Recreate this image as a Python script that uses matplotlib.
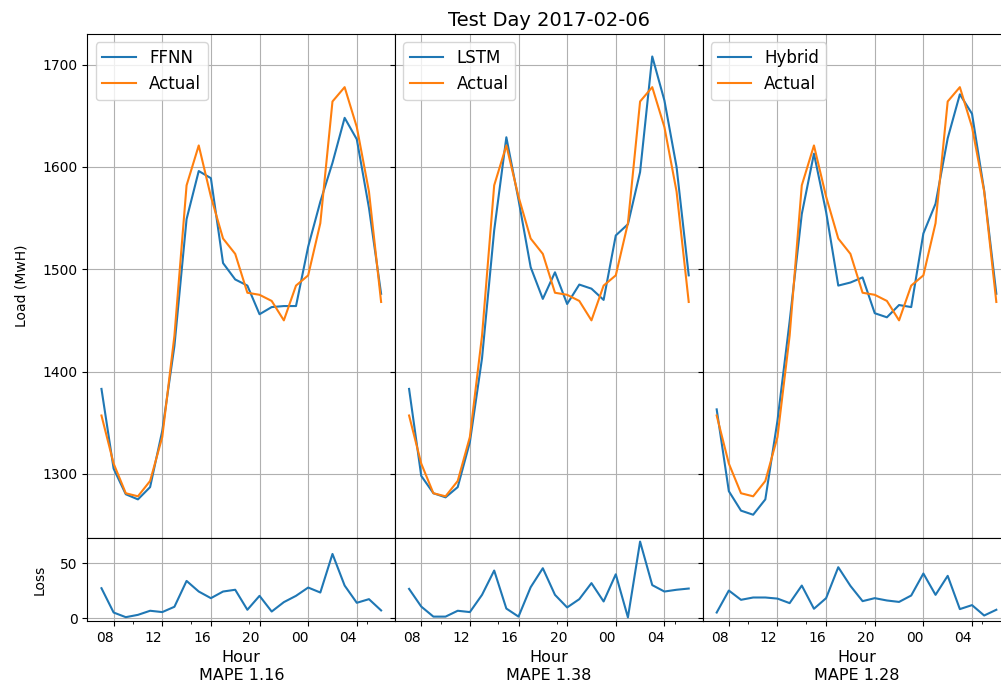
#!/usr/bin/env python3
import numpy as np
import pandas as pd
import matplotlib
matplotlib.use("Agg")
import matplotlib.pyplot as plt
import matplotlib.dates as mdates

# hourly values for the test day, 07:00 -> 06:00 next day
start = "2017-02-06 07:00"
actual = [1357, 1310, 1281, 1278, 1293, 1336, 1435, 1582, 1621, 1571, 1530, 1515,
          1477, 1475, 1469, 1450, 1484, 1494, 1545, 1664, 1678, 1639, 1576, 1468]
ffnn = [1383, 1305, 1280, 1275, 1287, 1342, 1425, 1549, 1596, 1589, 1506, 1490,
        1484, 1456, 1463, 1464, 1464, 1522, 1566, 1604, 1648, 1627, 1560, 1476]
lstm = [1383, 1298, 1281, 1277, 1287, 1331, 1413, 1538, 1629, 1568, 1502, 1471,
        1497, 1466, 1485, 1481, 1470, 1533, 1544, 1595, 1708, 1665, 1600, 1494]
hybrid = [1363, 1283, 1264, 1260, 1275, 1352, 1449, 1554, 1613, 1556, 1484, 1487,
          1492, 1457, 1453, 1465, 1463, 1535, 1564, 1628, 1671, 1652, 1577, 1476]

ffnn_loss = [27.4, 5.4, 1.2, 3.3, 7.0, 5.8, 10.6, 34.0, 24.4, 18.4, 24.4, 26.0,
             7.9, 20.5, 6.3, 14.8, 20.5, 28.0, 23.5, 58.4, 29.8, 14.2, 17.5, 7.3]
lstm_loss = [26.8, 10.8, 1.7, 1.7, 7.0, 5.8, 21.4, 43.4, 9.0, 1.7, 28.3, 45.5,
             21.4, 10.0, 17.5, 32.0, 15.4, 40.0, 1.0, 69.6, 30.2, 24.4, 26.0, 27.1]
hybrid_loss = [5.4, 25.3, 16.9, 19.0, 19.0, 18.0, 13.9, 29.8, 8.8, 18.4, 46.4, 29.5,
               15.7, 18.4, 16.3, 15.0, 20.8, 40.7, 21.4, 38.6, 8.5, 12.1, 2.7, 7.9]

models = ["FFNN", "LSTM", "Hybrid"]
mape = [1.16, 1.38, 1.28]
minor_times = ["2017-02-06 09:36", "2017-02-06 14:20", "2017-02-06 19:10", "2017-02-07 04:50"]


def main():
    hours = pd.date_range(start, periods=len(actual), freq="h")
    preds = [ffnn, lstm, hybrid]
    losses = [ffnn_loss, lstm_loss, hybrid_loss]

    fig = plt.figure(figsize=(10.01, 6.93), dpi=100)
    gs = fig.add_gridspec(2, 3, height_ratios=[6.1, 1], hspace=0, wspace=0,
                          left=0.0874, right=1.0093, bottom=0.104, top=0.951)
    axes = gs.subplots(sharex="col", sharey="row")

    for j in range(3):
        top = axes[0, j]
        bot = axes[1, j]
        top.plot(hours, preds[j], color="#1f77b4", label=models[j])
        top.plot(hours, actual, color="#ff7f0e", label="Actual")
        top.legend(loc="upper left", fontsize=12)
        top.grid(True)

        bot.plot(hours, losses[j], color="#1f77b4")
        bot.grid(True)
        bot.set_xlabel("Hour\nMAPE %.2f" % mape[j], fontsize=11.5)

        bot.xaxis.set_major_locator(mdates.HourLocator(byhour=[0, 4, 8, 12, 16, 20]))
        bot.xaxis.set_major_formatter(mdates.DateFormatter("%H"))
        bot.xaxis.set_minor_locator(matplotlib.ticker.FixedLocator(
            mdates.date2num(pd.to_datetime(minor_times))))
        for lab in bot.get_xticklabels():
            lab.set_ha("right")
        top.tick_params(labelbottom=False)

    axes[0, 0].set_ylim(1237, 1730)
    axes[0, 0].set_yticks([1300, 1400, 1500, 1600, 1700])
    axes[1, 0].set_ylim(-2.2, 72.6)
    axes[1, 0].set_yticks([0, 50])
    axes[0, 0].set_ylabel("Load (MwH)", labelpad=10)
    axes[1, 0].set_ylabel("Loss", labelpad=10)
    axes[0, 1].set_title("Test Day 2017-02-06", fontsize=14)

    fig.savefig("out.png", dpi=100)


if __name__ == '__main__':
    main()
